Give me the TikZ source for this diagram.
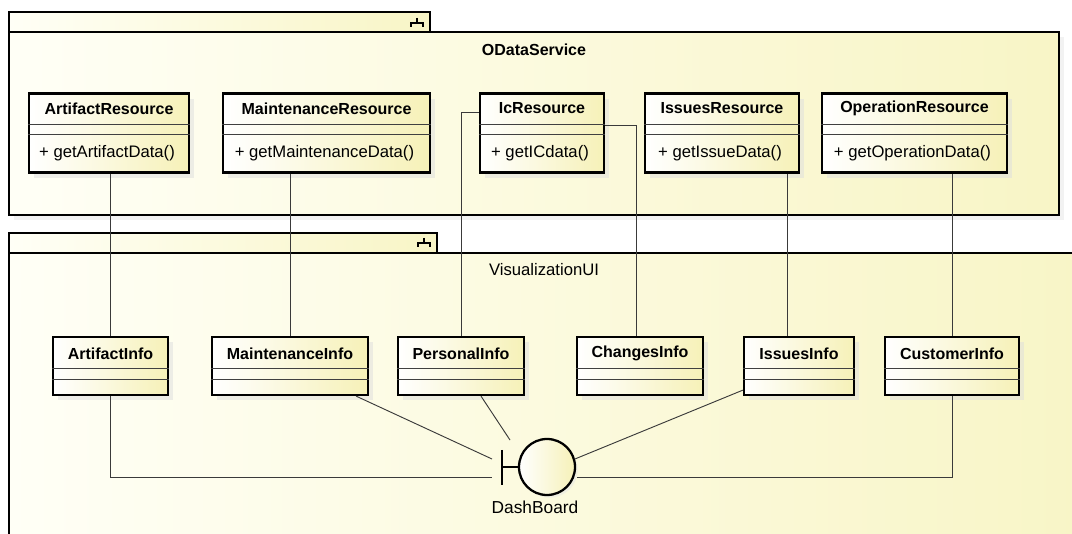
\documentclass[tikz,border=0pt]{standalone}
\usepackage{fontspec}
\setmainfont{Liberation Sans}
\usetikzlibrary{positioning, calc, shadows}

\definecolor{pkgleft}{HTML}{FFFFF6}
\definecolor{pkgright}{HTML}{F8F5C6}
\definecolor{clsright}{HTML}{F6F1B8}
\definecolor{wire}{HTML}{3A3A3A}

\begin{document}
\begin{tikzpicture}[x=0.75pt, y=-0.75pt,
    pkg/.style={draw, line width=1.7pt, left color=pkgleft, right color=pkgright},
    cls/.style={draw, line width=1.7pt, left color=white, right color=clsright, inner sep=0pt,
      drop shadow={shadow xshift=3.5pt, shadow yshift=-4pt, fill=black!13}},
    res/.style={cls, minimum height=59.25pt},
    info/.style={cls, minimum height=43.5pt},
    cname/.style={font=\bfseries\fontsize{12}{14}\selectfont},
    meth/.style={font=\fontsize{12.5}{14}\selectfont},
    ptitle/.style={font=\fontsize{12.5}{14}\selectfont},
    sep/.style={line width=0.8pt, draw=black!75},
    conn/.style={line width=0.7pt, draw=wire}]
  \useasboundingbox (0,0) rectangle (1072,534);
  \clip (0,0) rectangle (1072,534);

  % packages
  \draw[pkg, drop shadow={shadow xshift=4pt, shadow yshift=-4pt, fill=black!10}] (9,32) rectangle (1059,215);
  \draw[pkg] (9,12) rectangle (430,32);
  \draw[pkg] (9,253) rectangle (1100,560);
  \draw[pkg] (9,233) rectangle (437,253);
  \foreach \tx/\ty in {417/18, 424/238}
    \draw[line width=0.8pt] (\tx,\ty) -- ++(0,5) (\tx-6,\ty+9) -- ++(0,-4) -- ++(12,0) -- ++(0,4);
  \node[ptitle, font=\bfseries\fontsize{12}{14}\selectfont] (odata) at (534,50) {ODataService};
  \node[ptitle] (visui) at (544,270) {VisualizationUI};

  % resources
  \node[res, minimum width=120pt] (artres) at (109,133) {};
  \node[res, minimum width=155.25pt] (maintres) at (326.5,133) {};
  \node[res, minimum width=93pt] (icres) at (542,133) {};
  \node[res, minimum width=115.5pt] (issres) at (722,133) {};
  \node[res, minimum width=138.75pt] (opres) at (914.5,133) {};
  \foreach \n/\t/\m in {artres/ArtifactResource/getArtifactData, maintres/MaintenanceResource/getMaintenanceData,
      icres/IcResource/getICdata, issres/IssuesResource/getIssueData, opres/OperationResource/getOperationData} {
    \node[cname] (\n-name) at ($(\n.north)+(0,16)$) {\t};
    \node[meth] (\n-op) at ($(\n.north)+(-2,61)$) {+ \m()};
    \draw[sep] ($(\n.north west)+(0,32)$) -- ($(\n.north east)+(0,32)$);
    \draw[sep] ($(\n.north west)+(0,42)$) -- ($(\n.north east)+(0,42)$);
  }

  % info classes
  \node[info, minimum width=86.25pt] (artinfo) at (110.5,366) {};
  \node[info, minimum width=117pt] (maintinfo) at (290,366) {};
  \node[info, minimum width=94.5pt] (persinfo) at (461,366) {};
  \node[info, minimum width=94.5pt] (chginfo) at (640,366) {};
  \node[info, minimum width=82.5pt] (issinfo) at (799,366) {};
  \node[info, minimum width=100.5pt] (custinfo) at (952,366) {};
  \foreach \n/\t in {artinfo/ArtifactInfo, maintinfo/MaintenanceInfo, persinfo/PersonalInfo,
      chginfo/ChangesInfo, issinfo/IssuesInfo, custinfo/CustomerInfo} {
    \node[cname] (\n-name) at ($(\n.north)+(0,18)$) {\t};
    \draw[sep] ($(\n.north west)+(0,33)$) -- ($(\n.north east)+(0,33)$);
    \draw[sep] ($(\n.north west)+(0,44)$) -- ($(\n.north east)+(0,44)$);
  }

  % interface
  \node[circle, draw, line width=1.7pt, minimum size=42pt, inner sep=0pt, left color=white, right color=clsright,
    drop shadow={shadow xshift=2pt, shadow yshift=-2pt, fill=black!10}] (dash) at (547,467) {};
  \node[font=\fontsize{13}{15}\selectfont] (dashlbl) at (535,507) {DashBoard};
  \coordinate (socket) at ($(dash.west)+(-16,0)$);
  \draw[line width=1.7pt] ($(socket)+(0,-17)$) -- ($(socket)+(0,18)$);
  \draw[line width=1.7pt] (socket) -- (dash.west);

  % connectors
  \draw[conn] (artinfo.north) -- (artinfo.north |- artres.south);
  \draw[conn] (maintinfo.north) -- (maintinfo.north |- maintres.south);
  \draw[conn] (persinfo.north) |- ($(icres.north west)!0.25!(icres.south west)$);
  \draw[conn] ($(chginfo.north)+(-4,0)$) |- ($(icres.north east)!0.41!(icres.south east)$);
  \coordinate (issup) at ($(issinfo.north west)!0.4!(issinfo.north east)$);
  \draw[conn] (issup) -- (issup |- issres.south);
  \draw[conn] (custinfo.north) -- (custinfo.north |- opres.south);

  \coordinate (joinL) at ($(dash.center)+(-55,10)$);
  \coordinate (joinR) at ($(dash.center)+(30,10)$);
  \coordinate (joinM) at ($(dash.center)+(-55,-8)$);
  \coordinate (joinP) at ($(dash.center)+(-37,-27)$);
  \draw[conn] (artinfo.south) |- (joinL);
  \draw[conn] (custinfo.south) |- (joinR);
  \draw[conn] ($(maintinfo.south east)+(-13,0)$) -- (joinM);
  \draw[conn] ($(persinfo.south)+(20,0)$) -- (joinP);
  \draw[conn] ($(issinfo.south west)+(0,-6)$) -- (dash.16);
\end{tikzpicture}
\end{document}
